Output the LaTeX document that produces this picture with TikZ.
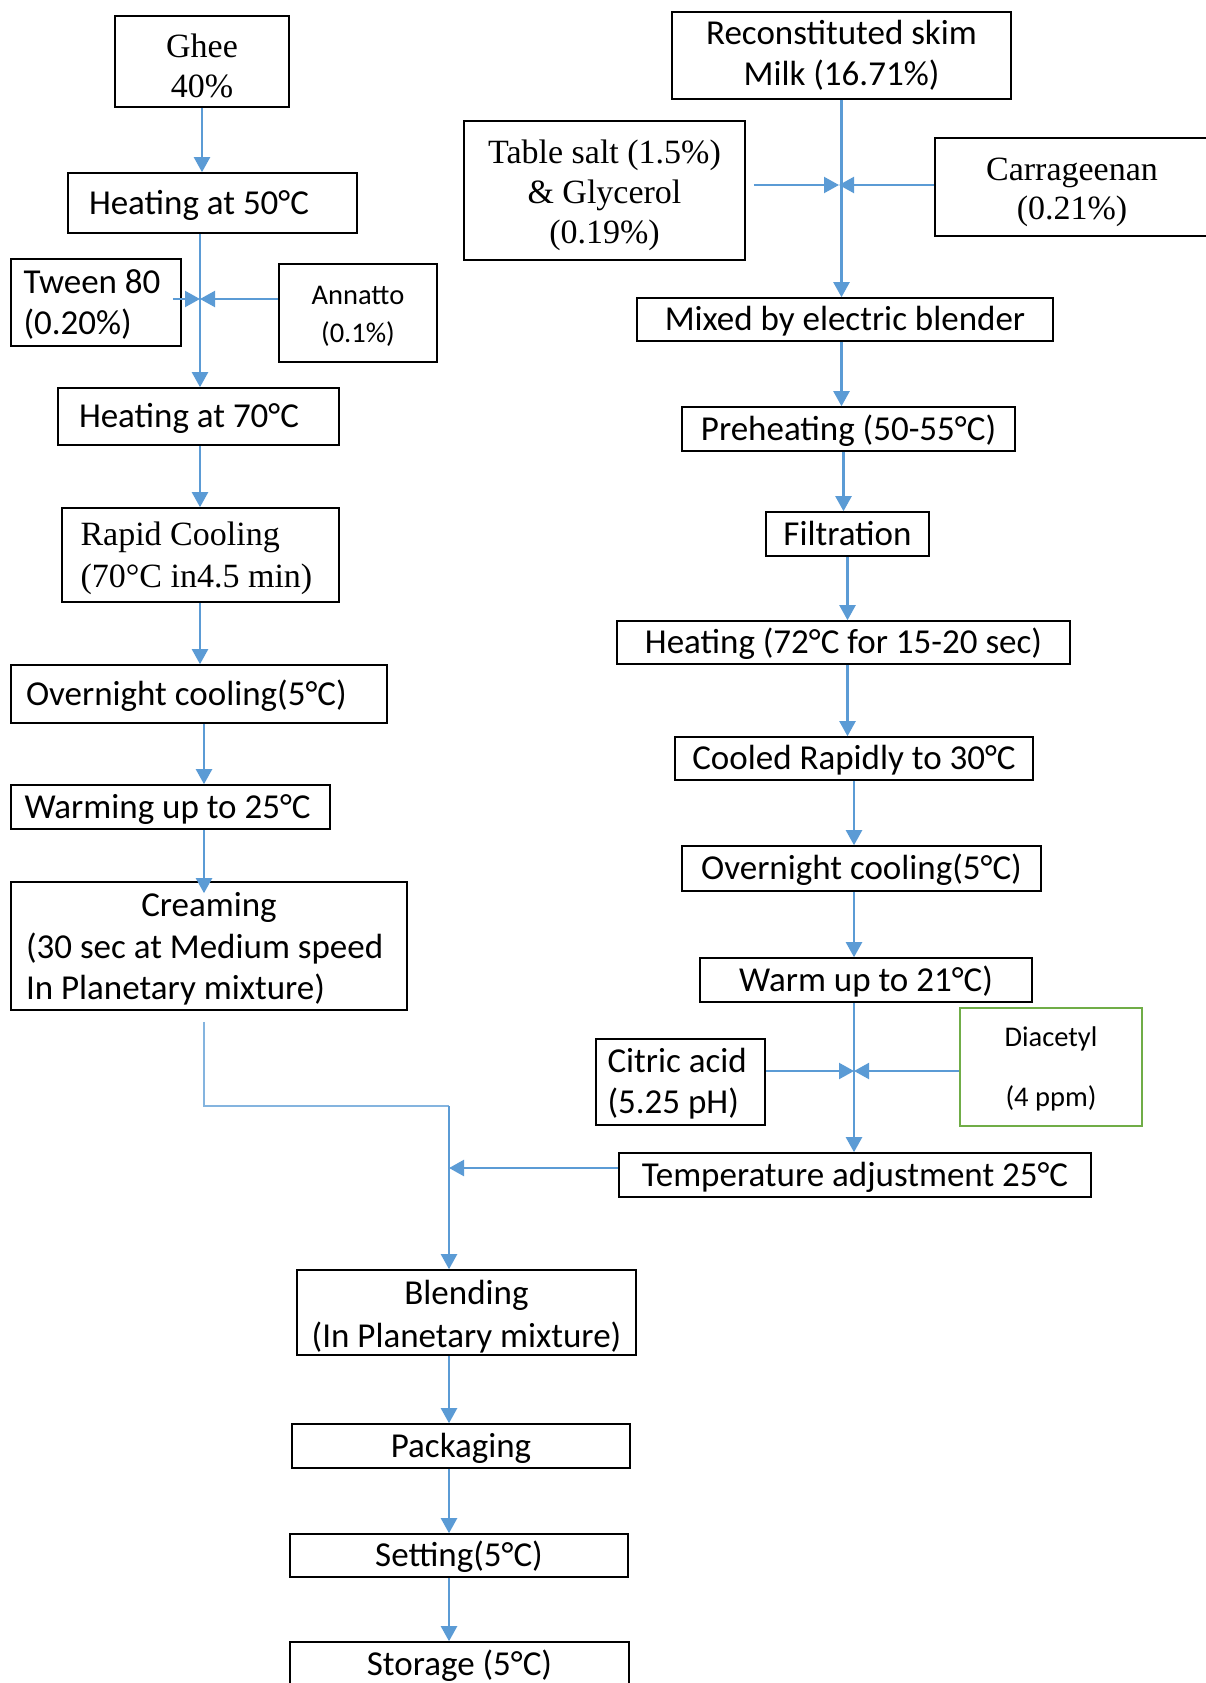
\documentclass[tikz,border=0pt]{standalone}
\usepackage{fontspec}
\setmainfont{Carlito}
\newfontfamily\timesrm{Liberation Serif}
\usepackage{xcolor}
\usetikzlibrary{arrows.meta}
\definecolor{flowblue}{RGB}{91,155,213}
\definecolor{leafgreen}{RGB}{112,173,71}
\newcommand{\topstrut}[1]{\rule{0pt}{#1}}

\begin{document}
\begin{tikzpicture}[x=1pt,y=-1pt,
  box/.style={draw, line width=1.6pt, inner sep=0pt, align=center, font=\fontsize{35}{41.5}\selectfont},
  oneline/.style={text height=30pt, text depth=8pt},
  lbox/.style={box, align=left, execute at begin node={\spaceskip=0pt\xspaceskip=0pt}},
  sbox/.style={box, font=\timesrm\fontsize{34}{40}\selectfont},
  mbox/.style={box, font=\fontsize{28.5}{38}\selectfont},
  flow/.style={draw=flowblue, line width=2.2pt, -{Triangle[length=15pt,width=16pt]}},
  thinline/.style={draw=flowblue!75, line width=1.2pt}]
  \useasboundingbox (0,0) rectangle (1206,1683);

  % ghee side
  \node[sbox, minimum width=174pt, minimum height=91pt] (ghee) at (202,61.5) {\topstrut{33pt}Ghee\\40\%};
  \node[lbox, oneline, minimum width=289pt, minimum height=60pt, text width=247pt] (heat50) at (212.5,203) {Heating at 50°C};
  \node[lbox, minimum width=170pt, minimum height=87pt, text width=145pt] (tween) at (96,302.5) {\topstrut{28pt}Tween 80\\(0.20\%)};
  \node[mbox, line width=2.4pt, minimum width=158pt, minimum height=98pt] (annatto) at (358,313) {\topstrut{24pt}Annatto\\(0.1\%)};
  \node[lbox, oneline, minimum width=281pt, minimum height=57pt, text width=239pt] (heat70) at (198.5,416.5) {Heating at 70°C};
  \node[sbox, align=left, execute at begin node={\spaceskip=0pt\xspaceskip=0pt}, minimum width=277pt, minimum height=94pt, text width=240pt, font=\timesrm\fontsize{34}{42}\selectfont] (rapid) at (200.5,555) {\topstrut{30pt}Rapid Cooling\\(70°C in4.5 min)};
  \node[lbox, oneline, minimum width=376pt, minimum height=58pt, text width=346pt] (ovnL) at (199,694) {Overnight cooling(5°C)};
  \node[lbox, oneline, minimum width=319pt, minimum height=44pt, text width=292pt] (warmL) at (170.5,807) {Warming up to 25°C};
  \node[lbox, minimum width=396pt, minimum height=128pt, text width=366pt] (cream) at (209,946) {\makebox[366pt]{\topstrut{30pt}Creaming}\\(30 sec at Medium speed\\In Planetary mixture)};

  % skim milk side
  \node[box, minimum width=339pt, minimum height=87pt] (recon) at (841.5,55.5) {Reconstituted skim\\Milk (16.71\%)};
  \node[sbox, minimum width=281pt, minimum height=139pt] (salt) at (604.5,190.5) {\topstrut{33pt}Table salt (1.5\%)\\\& Glycerol\\(0.19\%)};
  \node[sbox, minimum width=274pt, minimum height=98pt, font=\timesrm\fontsize{34}{39}\selectfont] (carra) at (1072,187) {\topstrut{33pt}Carrageenan\\(0.21\%)};
  \node[box, oneline, minimum width=416pt, minimum height=43pt] (mixed) at (845,319.5) {Mixed by electric blender};
  \node[box, oneline, minimum width=333pt, minimum height=44pt] (preheat) at (848.5,429) {Preheating (50-55°C)};
  \node[box, oneline, minimum width=163pt, minimum height=44pt] (filt) at (847.5,534) {Filtration};
  \node[box, oneline, minimum width=453pt, minimum height=43pt] (heat72) at (843.5,642.5) {Heating (72°C for 15-20 sec)};
  \node[box, oneline, minimum width=358pt, minimum height=43pt] (cooled) at (854,758.5) {Cooled Rapidly to 30°C};
  \node[box, oneline, minimum width=359pt, minimum height=45pt] (ovnR) at (861.5,868.5) {Overnight cooling(5°C)};
  \node[box, oneline, minimum width=332pt, minimum height=44pt] (warmR) at (866,980) {Warm up to 21°C)};
  \node[lbox, minimum width=169pt, minimum height=86pt, text width=146pt] (citric) at (680.5,1082) {\topstrut{28pt}Citric acid\\(5.25 pH)};
  \node[mbox, draw=leafgreen, line width=2.4pt, minimum width=182pt, minimum height=118pt, font=\fontsize{28.5}{60}\selectfont] (diacetyl) at (1051,1067) {\topstrut{24pt}Diacetyl\\(4 ppm)};
  \node[box, oneline, minimum width=472pt, minimum height=44pt] (tempadj) at (855,1175) {Temperature adjustment 25°C};

  % common end
  \node[box, minimum width=339pt, minimum height=85pt, font=\fontsize{35}{43}\selectfont] (blend) at (466.5,1312.5) {\topstrut{32pt}Blending\\(In Planetary mixture)};
  \node[box, oneline, minimum width=338pt, minimum height=44pt] (pack) at (461,1446) {Packaging};
  \node[box, oneline, minimum width=338pt, minimum height=43pt] (sett) at (459,1555.5) {Setting(5°C)};
  \node[box, oneline, minimum width=339pt, minimum height=44pt] (stor) at (459.5,1664) {Storage (5°C)};

  \coordinate (jA) at (200,299);
  \coordinate (jB) at (839,185);
  \coordinate (jC) at (854,1071);
  \coordinate (kneeA) at (204,1106);
  \coordinate (kneeB) at (449,1106);
  \coordinate (jD) at (449,1168);

  \draw[flow] (ghee.south) -- (heat50.north -| ghee);
  \draw[flow] (heat50.south -| jA) -- (heat70.north -| jA);
  \draw[flow] ([xshift=-9pt]tween.east |- jA) -- (jA);
  \draw[flow] (annatto.west |- jA) -- (jA);
  \draw[flow] (heat70.south -| jA) -- (rapid.north -| jA);
  \draw[flow] (rapid.south -| jA) -- (ovnL.north -| jA);
  \draw[flow] (ovnL.south -| kneeA) -- (warmL.north -| kneeA);
  \draw[flow] (warmL.south -| kneeA) -- ([yshift=-12pt]cream.north -| kneeA);
  \draw[thinline] ([yshift=-11pt]cream.south -| kneeA) -- (kneeA) -- (kneeB);
  \draw[flow] (kneeB) -- (blend.north -| kneeB);
  \draw[flow] (tempadj.west |- jD) -- (jD);

  \draw[flow] (recon.south) -- (mixed.north -| recon);
  \draw[flow] ([xshift=8pt]salt.east |- jB) -- (jB);
  \draw[flow] (carra.west |- jB) -- (jB);
  \draw[flow] (mixed.south -| recon) -- (preheat.north -| recon);
  \draw[flow] (preheat.south -| heat72) -- (filt.north -| heat72);
  \draw[flow] (filt.south) -- (heat72.north -| filt);
  \draw[flow] (heat72.south -| filt) -- (cooled.north -| filt);
  \draw[flow] (cooled.south) -- (ovnR.north -| cooled);
  \draw[flow] (ovnR.south -| jC) -- (warmR.north -| jC);
  \draw[flow] (warmR.south -| jC) -- (tempadj.north -| jC);
  \draw[flow] (citric.east |- jC) -- (jC);
  \draw[flow] (diacetyl.west |- jC) -- (jC);

  \draw[flow] (blend.south -| kneeB) -- (pack.north -| kneeB);
  \draw[flow] (pack.south -| kneeB) -- (sett.north -| kneeB);
  \draw[flow] (sett.south -| kneeB) -- (stor.north -| kneeB);
\end{tikzpicture}
\end{document}
